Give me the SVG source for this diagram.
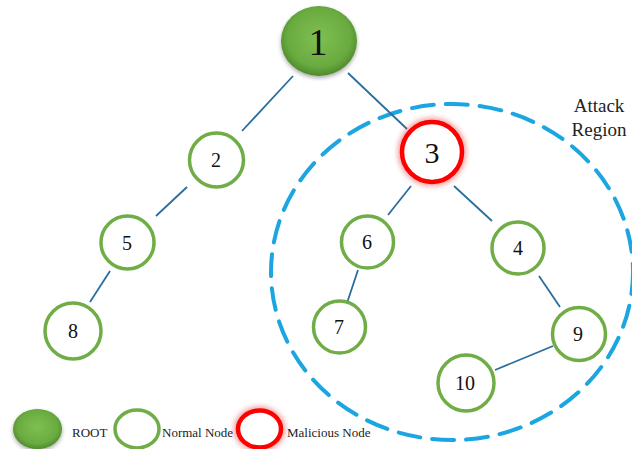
<svg xmlns="http://www.w3.org/2000/svg" width="632" height="449" viewBox="0 0 632 449">
  <style>
    .edge { stroke: #2b6e9e; stroke-width: 1.8; fill: none; }
    .normal { fill: #ffffff; stroke: #70ad47; stroke-width: 3.5; }
    .malicious { fill: #ffffff; stroke: #ff0000; stroke-width: 4.5; }
    .glow { fill: none; stroke: #e23a3a; stroke-width: 9; opacity: 0.45; filter: url(#blur); }
    .root { fill: url(#rootFill); }
    .num { font-family: "Liberation Serif", "Times New Roman", serif; fill: #111; text-anchor: middle; }
    .lbl { font-family: "Liberation Serif", "Times New Roman", serif; fill: #222; }
    .region { fill: none; stroke: #1ba6e2; stroke-width: 4; stroke-dasharray: 22 12; stroke-linecap: round; }
  </style>
  <defs>
    <radialGradient id="rootFill" cx="50%" cy="45%" r="55%">
      <stop offset="0%" stop-color="#7fbf52"/>
      <stop offset="75%" stop-color="#6aab40"/>
      <stop offset="100%" stop-color="#4f8a2c"/>
    </radialGradient>
    <filter id="blur" x="-30%" y="-30%" width="160%" height="160%">
      <feGaussianBlur stdDeviation="2.5"/>
    </filter>
    <filter id="soft" x="-20%" y="-20%" width="140%" height="150%">
      <feGaussianBlur in="SourceAlpha" stdDeviation="2"/>
      <feOffset dy="2"/>
      <feComponentTransfer><feFuncA type="linear" slope="0.35"/></feComponentTransfer>
      <feMerge><feMergeNode/><feMergeNode in="SourceGraphic"/></feMerge>
    </filter>
  </defs>

  <rect width="632" height="449" fill="#ffffff"/>

  <!-- attack region boundary -->
  <ellipse id="attack-region" class="region" cx="452" cy="272" rx="181" ry="168"/>
  <text class="lbl" font-size="19" text-anchor="middle" x="599" y="112">Attack</text>
  <text class="lbl" font-size="19" text-anchor="middle" x="599" y="136">Region</text>

  <!-- connectors -->
  <g id="edges">
    <line class="edge" x1="293" y1="76" x2="242" y2="131"/>
    <line class="edge" x1="348" y1="73" x2="407" y2="129"/>
    <line class="edge" x1="187" y1="187" x2="156" y2="216"/>
    <line class="edge" x1="110" y1="271" x2="90" y2="302"/>
    <line class="edge" x1="411" y1="186" x2="388" y2="215"/>
    <line class="edge" x1="454" y1="186" x2="492" y2="221"/>
    <line class="edge" x1="358" y1="270" x2="347" y2="303"/>
    <line class="edge" x1="539" y1="276" x2="560" y2="307"/>
    <line class="edge" x1="553" y1="346" x2="495" y2="370"/>
  </g>

  <!-- nodes -->
  <g id="node-1">
    <ellipse class="root" filter="url(#soft)" cx="319" cy="41" rx="38" ry="35"/>
    <text class="num" font-size="38" x="318" y="55">1</text>
  </g>
  <g id="node-2">
    <circle class="normal" cx="216.5" cy="160" r="27"/>
    <text class="num" font-size="20" x="216" y="167">2</text>
  </g>
  <g id="node-3">
    <circle class="glow" cx="432" cy="152" r="30"/>
    <circle class="malicious" cx="432" cy="152" r="30"/>
    <text class="num" font-size="30" x="432" y="163">3</text>
  </g>
  <g id="node-5">
    <circle class="normal" cx="127.5" cy="242.5" r="26.5"/>
    <text class="num" font-size="20" x="127" y="250">5</text>
  </g>
  <g id="node-8">
    <circle class="normal" cx="73" cy="331" r="28"/>
    <text class="num" font-size="20" x="73" y="338">8</text>
  </g>
  <g id="node-6">
    <circle class="normal" cx="367.5" cy="242" r="26"/>
    <text class="num" font-size="20" x="367" y="249">6</text>
  </g>
  <g id="node-4">
    <circle class="normal" cx="518" cy="248" r="26"/>
    <text class="num" font-size="20" x="518" y="255">4</text>
  </g>
  <g id="node-7">
    <circle class="normal" cx="339.5" cy="327" r="26"/>
    <text class="num" font-size="20" x="339" y="334">7</text>
  </g>
  <g id="node-9">
    <circle class="normal" cx="579" cy="334" r="26.5"/>
    <text class="num" font-size="20" x="578" y="341">9</text>
  </g>
  <g id="node-10">
    <circle class="normal" cx="466" cy="383" r="28"/>
    <text class="num" font-size="20" x="465" y="390">10</text>
  </g>

  <!-- legend -->
  <g id="legend">
    <ellipse class="root" filter="url(#soft)" cx="37.5" cy="429" rx="24.5" ry="20"/>
    <text class="lbl" font-size="13" x="72" y="437">ROOT</text>
    <ellipse class="normal" cx="137" cy="429" rx="22" ry="19"/>
    <text class="lbl" font-size="13" x="162" y="437">Normal Node</text>
    <ellipse class="glow" cx="259.5" cy="429" rx="21.5" ry="18.5"/>
    <ellipse class="malicious" cx="259.5" cy="429" rx="21.5" ry="18.5"/>
    <text class="lbl" font-size="13" x="287" y="437">Malicious Node</text>
  </g>
</svg>
